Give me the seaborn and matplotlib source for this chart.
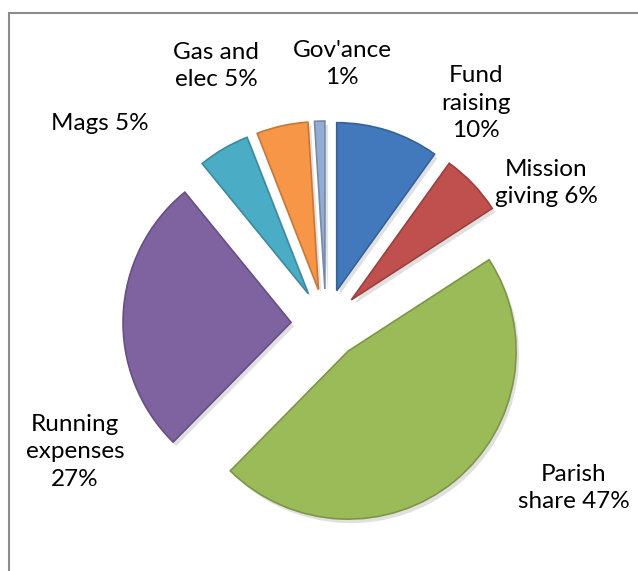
import seaborn as sns
import matplotlib.pyplot as plt
import matplotlib.patches as mpatches

# data
categories = ["Fund raising", "Mission giving", "Parish share", "Running expenses",
              "Mags", "Gas and elec", "Gov'ance"]
shares = [10, 6, 47, 27, 5, 5, 1]
label_texts = ["Fund\nraising\n10%", "Mission\ngiving 6%", "Parish\nshare 47%",
               "Running\nexpenses\n27%", "Mags 5%", "Gas and\nelec 5%", "Gov'ance\n1%"]
colors = ["#4279BD", "#C0504D", "#9BBB59", "#7F63A1", "#4BACC6", "#F79646", "#93ACD3"]

# layout (pixel coords of label centres, y from top)
label_xy = [(476, 103), (546, 183), (574, 488), (75, 452), (100, 124), (216, 66), (342, 64)]

sns.set_theme(style="white")
plt.rcParams['font.family'] = ['Lato', 'DejaVu Sans']

W, H = 638, 571
fig = plt.figure(figsize=(W / 100, H / 100), dpi=100)
ax = fig.add_axes([0, 0, 1, 1])

center = (326, H - 324)
radius = 168
explode = [35] * len(shares)   # pie() offsets in data units

# soft shadow
ax.pie(shares, explode=explode, startangle=90, counterclock=False,
       radius=radius, center=(center[0] + 3, center[1] - 4), frame=True,
       colors=["#000000"] * len(shares),
       wedgeprops=dict(alpha=0.12, linewidth=0))

wedges, _ = ax.pie(shares, explode=explode, startangle=90, counterclock=False,
                   radius=radius, center=center, frame=True, colors=colors,
                   wedgeprops=dict(linewidth=1.2))
for w, c in zip(wedges, colors):
    r, g, b = [int(c[i:i + 2], 16) / 255 for i in (1, 3, 5)]
    w.set_edgecolor((r * 0.8, g * 0.8, b * 0.8))

ax.set_xlim(0, W)
ax.set_ylim(0, H)
ax.set_aspect('equal')
ax.axis('off')

for txt, (x, y) in zip(label_texts, label_xy):
    ax.text(x, H - y, txt, ha='center', va='center', fontsize=17.5,
            color='black', linespacing=1.4)

ax.add_patch(mpatches.Rectangle((8.5, -20), 700, H - 12.5 + 20, fill=False,
                                edgecolor='#8c8c8c', linewidth=1.5))

fig.savefig("out.png", dpi=100)
